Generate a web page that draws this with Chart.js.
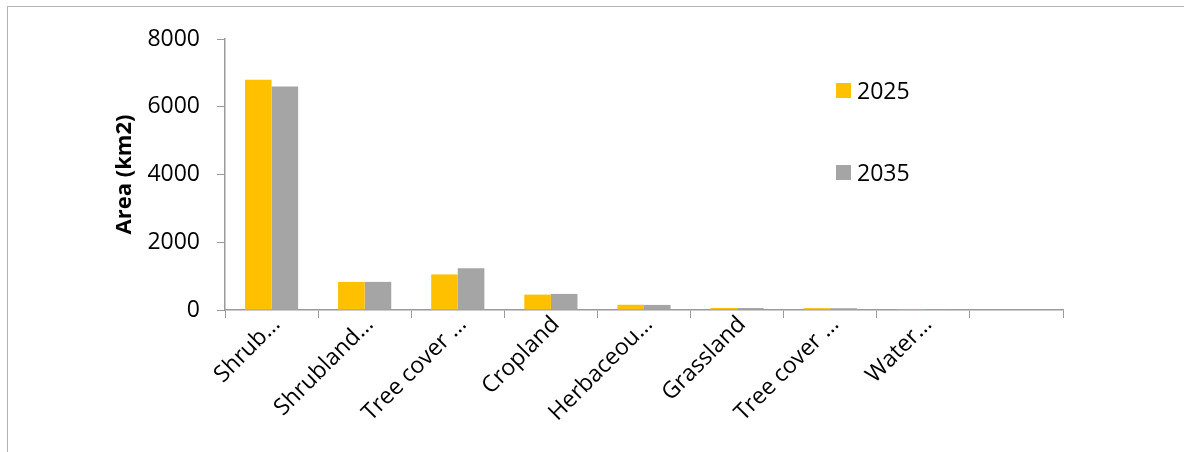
<!DOCTYPE html>
<html lang="en">
<head>
  <meta charset="UTF-8">
  <title>Area by land cover</title>
  <script src="https://cdn.jsdelivr.net/npm/chart.js"></script>
  <style>
    body {
      margin: 0;
      background: #fff;
      font-family: "Open Sans", sans-serif;
    }
    #wrap {
      position: relative;
      width: 1184px;
      height: 452px;
      overflow: hidden;
    }
    #frame {
      position: absolute;
      left: 7px;
      top: 6px;
      width: 1200px;
      height: 480px;
      border: 1px solid #b3b3b3;
    }
    #legend {
      position: absolute;
      left: 836px;
      top: 74px;
      font-size: 23px;
      color: #000;
    }
    .item {
      display: flex;
      align-items: center;
      height: 32px;
      margin-bottom: 50px;
    }
    .box {
      width: 15px;
      height: 15px;
      margin-right: 6px;
    }
  </style>
</head>
<body>
  <div id="wrap">
    <div id="frame"></div>
    <canvas id="chart" width="1184" height="452"></canvas>
    <div id="legend"></div>
  </div>

  <script>
    const categories = ['Shrub\u2026', 'Shrubland\u2026', 'Tree cover \u2026', 'Cropland', 'Herbaceou\u2026', 'Grassland', 'Tree cover \u2026', 'Water\u2026', ''];
    const area2025 = [6800, 830, 1050, 455, 155, 60, 55, 2, null];
    const area2035 = [6600, 830, 1230, 475, 150, 58, 52, 2, null];
    const seriesNames = ['2025', '2035'];
    const seriesColors = ['#FFC000', '#A5A5A5'];
    const yTicks = [0, 2000, 4000, 6000, 8000];

    const axisColor = '#9a9a9a';
    const fontFamily = '"Open Sans", sans-serif';

    // Legend sits inside the plot, like the original
    const legendEl = document.getElementById('legend');
    seriesNames.forEach((name, i) => {
      legendEl.innerHTML += `<div class="item"><span class="box" style="background:${seriesColors[i]}"></span>${name}</div>`;
    });

    new Chart(document.getElementById('chart'), {
      type: 'bar',
      data: {
        labels: categories,
        datasets: [
          { label: seriesNames[0], data: area2025, backgroundColor: seriesColors[0] },
          { label: seriesNames[1], data: area2035, backgroundColor: seriesColors[1] }
        ]
      },
      options: {
        responsive: false,
        animation: false,
        layout: { padding: { left: 112, right: 121, top: 39, bottom: 0 } },
        datasets: {
          bar: { categoryPercentage: 0.571, barPercentage: 1.0 }
        },
        plugins: {
          legend: { display: false },
          tooltip: { enabled: false }
        },
        scales: {
          x: {
            afterFit: scale => { scale.height = 142; },
            grid: {
              display: true,
              drawOnChartArea: false,
              drawTicks: true,
              tickLength: 8,
              color: axisColor,
              offset: true
            },
            border: { color: axisColor, width: 1.5 },
            ticks: {
              color: '#000',
              font: { family: fontFamily, size: 23 },
              minRotation: 45,
              maxRotation: 45,
              autoSkip: false,
              labelOffset: 5,
              padding: -7
            }
          },
          y: {
            min: 0,
            max: 8000,
            afterFit: scale => { scale.width = 113; },
            afterBuildTicks: scale => { scale.ticks = yTicks.map(v => ({ value: v })); },
            grid: {
              display: true,
              drawOnChartArea: false,
              drawTicks: true,
              tickLength: 8,
              color: axisColor
            },
            border: { color: axisColor, width: 1.5 },
            title: {
              display: true,
              text: 'Area (km2)',
              color: '#000',
              font: { family: fontFamily, size: 22, weight: 'bold' },
              padding: { top: 0, bottom: 0 }
            },
            ticks: {
              color: '#000',
              font: { family: fontFamily, size: 23 },
              padding: 17,
              callback: v => String(v)
            }
          }
        }
      }
    });
  </script>
</body>
</html>
